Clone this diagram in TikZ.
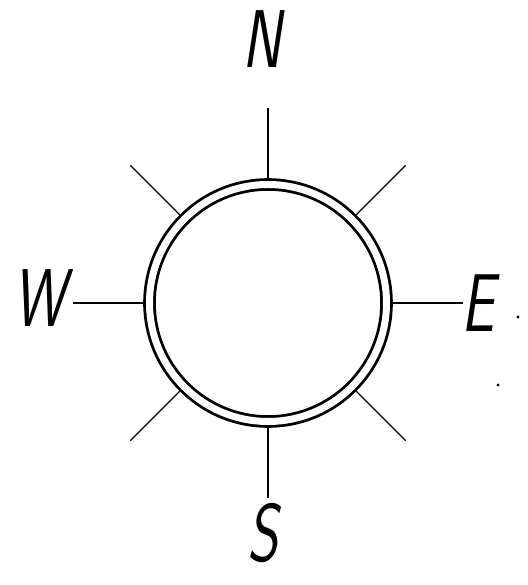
\documentclass[tikz,border=0pt]{standalone}
\usepackage{tikz}
\usetikzlibrary{positioning}

\begin{document}
\begin{tikzpicture}[x=1pt, y=1pt,
    ray/.style={line width=1.3pt},
    letter/.style={font=\fontsize{82}{82}\selectfont\sffamily\itshape, inner sep=0pt, xscale=0.72, transform shape}]
    \useasboundingbox (0,0) rectangle (527,585);

    % Double ring of the compass
    \node[draw, circle, double, line width=2.8pt, double distance=7pt,
          minimum size=237pt, inner sep=0pt, outer sep=6.3pt] (ring) at (268,282) {};

    % Eight rays
    \foreach \name/\ang in {n/90, ne/45, e/0, se/-45, s/-90, sw/-135, w/180, nw/135} {
        \draw[ray] (ring.\ang) -- ++(\ang:70) coordinate (tip-\name);
    }

    % Cardinal letters
    \node[letter] (lab-n) at (262,546) {N};
    \node[letter] (lab-w) at (40,287) {W};
    \node[letter] (lab-e) at (478,282) {E};
    \node[letter] (lab-s) at (263,52) {S};

    % Specks
    \fill (518,268) circle (1.6);
    \fill (498,200) circle (1.6);
\end{tikzpicture}
\end{document}
